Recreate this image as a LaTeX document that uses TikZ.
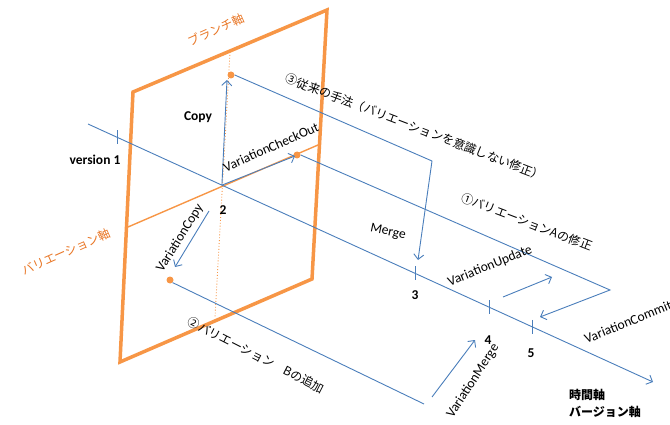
\documentclass[tikz,border=0pt]{standalone}
\usepackage{fontspec}
\setmainfont{Carlito}
\newfontfamily\jp{Noto Sans CJK JP}
\usetikzlibrary{arrows.meta}
\definecolor{axblue}{HTML}{4A7EBB}
\definecolor{planeor}{HTML}{F79646}
\definecolor{textor}{HTML}{E87524}
\begin{document}
\begin{tikzpicture}[x=1pt,y=-1pt,
  bl/.style={draw=axblue, line width=0.9pt},
  barr/.style={bl, -{Straight Barb[length=5pt,width=10pt]}},
  dot/.style={circle, fill=planeor, inner sep=0pt, minimum size=7pt},
  lab/.style={font=\fontsize{13.5}{15}\selectfont, inner sep=0pt},
  num/.style={font=\fontsize{13.5}{15}\selectfont\bfseries, inner sep=0pt},
  jlab/.style={font=\fontsize{12}{14}\selectfont\jp, inner sep=0pt},
  olab/.style={jlab, text=textor},
  tickmark/.style={bl},
  ]
\useasboundingbox (0,0) rectangle (670,425);

% plane
\coordinate (P1) at (133,92);
\coordinate (P2) at (327,10);
\coordinate (P3) at (312,279);
\coordinate (P4) at (120,362);
\draw[planeor, line width=3.5pt, line join=miter] (P1) -- (P2) -- (P3) -- (P4) -- cycle;

% variation axis and branch axis
\coordinate (V1) at (128,227);
\coordinate (V2) at (318,145);
\draw[planeor, line width=1.4pt] (V1) -- (V2);
\coordinate (B1) at (230,52);
\coordinate (B2) at (215,317);
\draw[planeor, line width=0.9pt, dotted] (B1) -- (B2);

% time axis
\coordinate (A) at (88,124);
\coordinate (Z) at (653,382);
\draw[barr] (A) -- (Z);
\path (A) -- (Z)
  coordinate[pos=0.0513] (t1)
  coordinate[pos=0.237] (O)
  coordinate[pos=0.579] (t3)
  coordinate[pos=0.710] (t4)
  coordinate[pos=0.786] (t5);
\foreach \t in {t1,t3,t4,t5}
  \draw[tickmark] ([yshift=7pt]\t) -- ([yshift=-7pt]\t);

% dots
\node[dot] (D1) at (231,75) {};
\node[dot] (D2) at (297,155) {};
\node[dot] (D3) at (170,280) {};

% arrows from origin
\coordinate (cpy) at (227,80);
\draw[barr] (O) -- (cpy);
\coordinate (chk) at (295,156);
\draw[barr] (O) -- (chk);
\coordinate (vc1) at (209,211);
\coordinate (vc2) at (175,267);
\draw[barr] (vc1) -- (vc2);

% path 3 (conventional)
\coordinate (C3) at (432,161);
\coordinate (M3) at (418,260);
\draw[barr] (D1.east) -- (C3) -- (M3);

% path 1 (variation A)
\coordinate (C1) at (610,290);
\coordinate (M1) at (540,317);
\draw[barr] (D2.east) -- (C1) -- (M1);
\coordinate (u1) at (503,297);
\coordinate (u2) at (552,277);
\draw[barr] (u1) -- (u2);

% path 2 (variation B)
\coordinate (E2) at (424,404);
\draw[bl] (D3.south east) -- (E2);
\coordinate (m1) at (432,397);
\coordinate (m2) at (475,340);
\draw[barr] (m1) -- (m2);

% labels
\node[olab, rotate=24] (lbr) at (216,30) {ブランチ軸};
\node[olab, rotate=24] (lva) at (66,252) {バリエーション軸};
\node[num] (lcopy) at (198,117) {Copy};
\node[num] (lv1) at (95,160) {version 1};
\node[lab, rotate=24] (lchk) at (271,147) {VariationCheckOut};
\node[num] (l2) at (223,210) {2};
\node[lab, rotate=58] (lvc) at (180,238) {VariationCopy};
\node[jlab, rotate=-21] (l3t) at (415,127) {③従来の手法（バリエーションを意識しない修正）};
\node[jlab, rotate=-21] (l1t) at (527,222) {①バリエーションAの修正};
\node[jlab, rotate=-27] (l2t) at (256,355) {②バリエーション　Bの追加};
\node[lab, rotate=-12] (lmg) at (388,232) {Merge};
\node[num] (l3) at (415,295) {3};
\node[num] (l4) at (488,340) {4};
\node[num] (l5) at (531,353) {5};
\node[lab, rotate=22] (lup) at (490,266) {VariationUpdate};
\node[lab, rotate=22] (lcm) at (628,322) {VariationCommit};
\node[lab, rotate=57] (lvm) at (473,381) {VariationMerge};
\node[jlab, font=\fontsize{12}{17}\selectfont\jp\bfseries, align=left, anchor=north west] (lax) at (569,389) {時間軸\\バージョン軸};
\end{tikzpicture}
\end{document}
